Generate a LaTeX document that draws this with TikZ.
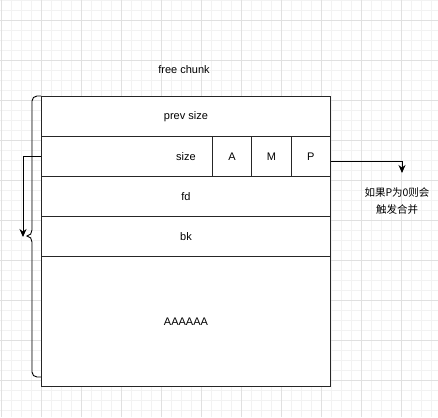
\documentclass[tikz,border=0pt]{standalone}
\usepackage{fontspec}
\setmainfont{Liberation Sans}
\newfontfamily\cjk{Noto Sans CJK SC}
\usetikzlibrary{arrows.meta}

\begin{document}
\begin{tikzpicture}[x=1pt, y=-1pt,
    every node/.style={font=\fontsize{11}{13}\selectfont},
    gridminor/.style={draw=black!5, line width=0.8pt},
    gridmajor/.style={draw=black!12, line width=0.8pt},
    row/.style={draw=black!85, line width=0.9pt, minimum width=289pt,
                minimum height=40pt, inner sep=0pt, anchor=north west},
    flag/.style={draw=black!85, line width=0.9pt, minimum width=39.33pt,
                 minimum height=40pt, inner sep=0pt, anchor=north west},
    flow/.style={-{Stealth[length=8pt, width=7pt]}, draw=black, line width=0.9pt}]

\useasboundingbox (0,0) rectangle (438,417);

% ===================== BACKGROUND GRID =====================
\foreach \gx in {1,11,...,431} \draw[gridminor] (\gx,0) -- (\gx,417);
\foreach \gy in {0,10,...,410} \draw[gridminor] (0,\gy) -- (438,\gy);
\foreach \gx in {1,41,...,401} \draw[gridmajor] (\gx,0) -- (\gx,417);
\foreach \gy in {20,60,...,380} \draw[gridmajor] (0,\gy) -- (438,\gy);

% ===================== CHUNK LAYOUT =====================
\node (title) at (184,70) {free chunk};

\node[row, fill=white] (prevsize) at (41,96) {prev size};
\node[row, fill=white] (size) at (41,136) {size};
\node[row, fill=white] (fd) at (41,176) {fd};
\node[row, fill=white] (bk) at (41,216) {bk};
\node[row, fill=white, minimum height=130pt] (data) at (41,256) {AAAAAA};

% Flag bits
\node[flag] (A) at (212,136) {A};
\node[flag] (M) at (251.33,136) {M};
\node[flag] (P) at (290.67,136) {P};

% Brace round the chunk
\draw[black, line width=0.9pt] (41,96) -- (37,96) to[out=180, in=90] (32,101)
    -- (32,230) to[out=270, in=0] (27,236) to[out=0, in=90] (32,242)
    -- (32,372) to[out=270, in=180] (37,377) -- (41,377);

% ===================== ARROWS =====================
\coordinate (sizeback) at (23,237);
\draw[flow] (size.west) -| (sizeback);

\coordinate (mergetip) at (402,173);
\draw[flow] ([yshift=-5pt]P.east) -| (mergetip);

\node[align=center, font=\cjk\fontsize{10.5}{17.5}\selectfont] (note) at (397,201)
    {如果P为0则会\\触发合并};

\end{tikzpicture}
\end{document}
